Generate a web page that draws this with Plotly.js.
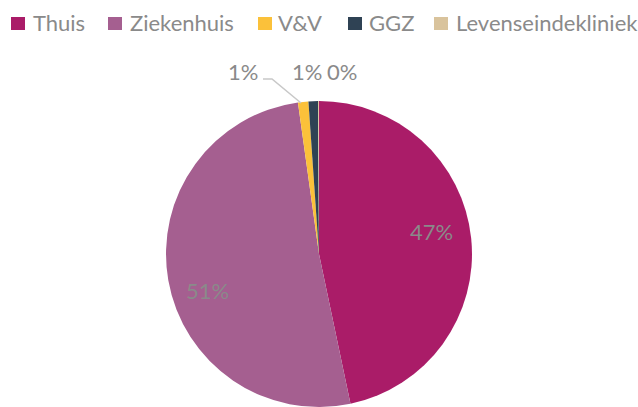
<!DOCTYPE html>
<html>
<head>
<meta charset="utf-8">
<script src="https://cdn.plot.ly/plotly-3.0.1.min.js"></script>
<style>html,body{margin:0;padding:0;background:#fff;overflow:hidden;} #chart{width:638px;height:407px;}</style>
</head>
<body>
<div id="chart"></div>
<script>
const categories = ["Thuis", "Ziekenhuis", "V&V", "GGZ", "Levenseindekliniek"];
const values = [46.7, 51.1, 1.1, 1.0, 0.1];
const colors = ["#aa1c68", "#a55f90", "#fbc13a", "#2f4254", "#d9c39c"];

// layout-only positions (pixels in the 638x407 frame)
const labelPx = [[431, 231], [207, 290], [243, 71], [307, 71], [342, 71]];
const legendSwatchX = [11, 108, 258, 348, 434];
const legendTextX = [31, 128, 276, 367, 454];
const W = 638, H = 407;
const FONT = "Lato, 'Open Sans', sans-serif";
const GRAY = "#8a8a8a";

const px = x => x / W;
const py = y => 1 - y / H;

const total = values.reduce((a, b) => a + b, 0);
const pctText = values.map(v => Math.round(v / total * 100) + "%");

const trace = {
  type: "pie",
  labels: categories,
  values: values,
  sort: false,
  direction: "clockwise",
  rotation: 0,
  marker: {colors: colors, line: {width: 0}},
  textinfo: "none",
  textposition: "none",
  domain: {x: [0.2602, 0.7398], y: [0, 0.7518]},
  hoverinfo: "label+percent",
  showlegend: false
};

const annotations = pctText.map((t, i) => ({
  text: t, showarrow: false,
  xref: "paper", yref: "paper",
  x: px(labelPx[i][0]), y: py(labelPx[i][1]),
  xanchor: "center", yanchor: "middle",
  font: {family: FONT, size: 22, color: GRAY}
}));

// legend built from categories/colors
categories.forEach((c, i) => {
  annotations.push({
    text: c, showarrow: false,
    xref: "paper", yref: "paper",
    x: px(legendTextX[i]), y: py(23),
    xanchor: "left", yanchor: "middle",
    font: {family: FONT, size: 22, color: GRAY}
  });
});
const shapes = categories.map((c, i) => ({
  type: "rect", xref: "paper", yref: "paper",
  x0: px(legendSwatchX[i]), x1: px(legendSwatchX[i] + 14),
  y0: py(17), y1: py(30),
  fillcolor: colors[i], line: {width: 0}
}));

const leader = [[263, 79], [272, 79], [301, 103]];
shapes.push({
  type: "path", xref: "paper", yref: "paper",
  path: leader.map((p, i) => (i ? "L" : "M") + px(p[0]) + "," + py(p[1])).join(" "),
  line: {color: "#c8c8c8", width: 1.5}
});

const layout = {
  width: W, height: H,
  margin: {l: 0, r: 0, t: 0, b: 0},
  paper_bgcolor: "#ffffff",
  showlegend: false,
  annotations: annotations,
  shapes: shapes
};

Plotly.newPlot("chart", [trace], layout, {staticPlot: true});
</script>
</body>
</html>
